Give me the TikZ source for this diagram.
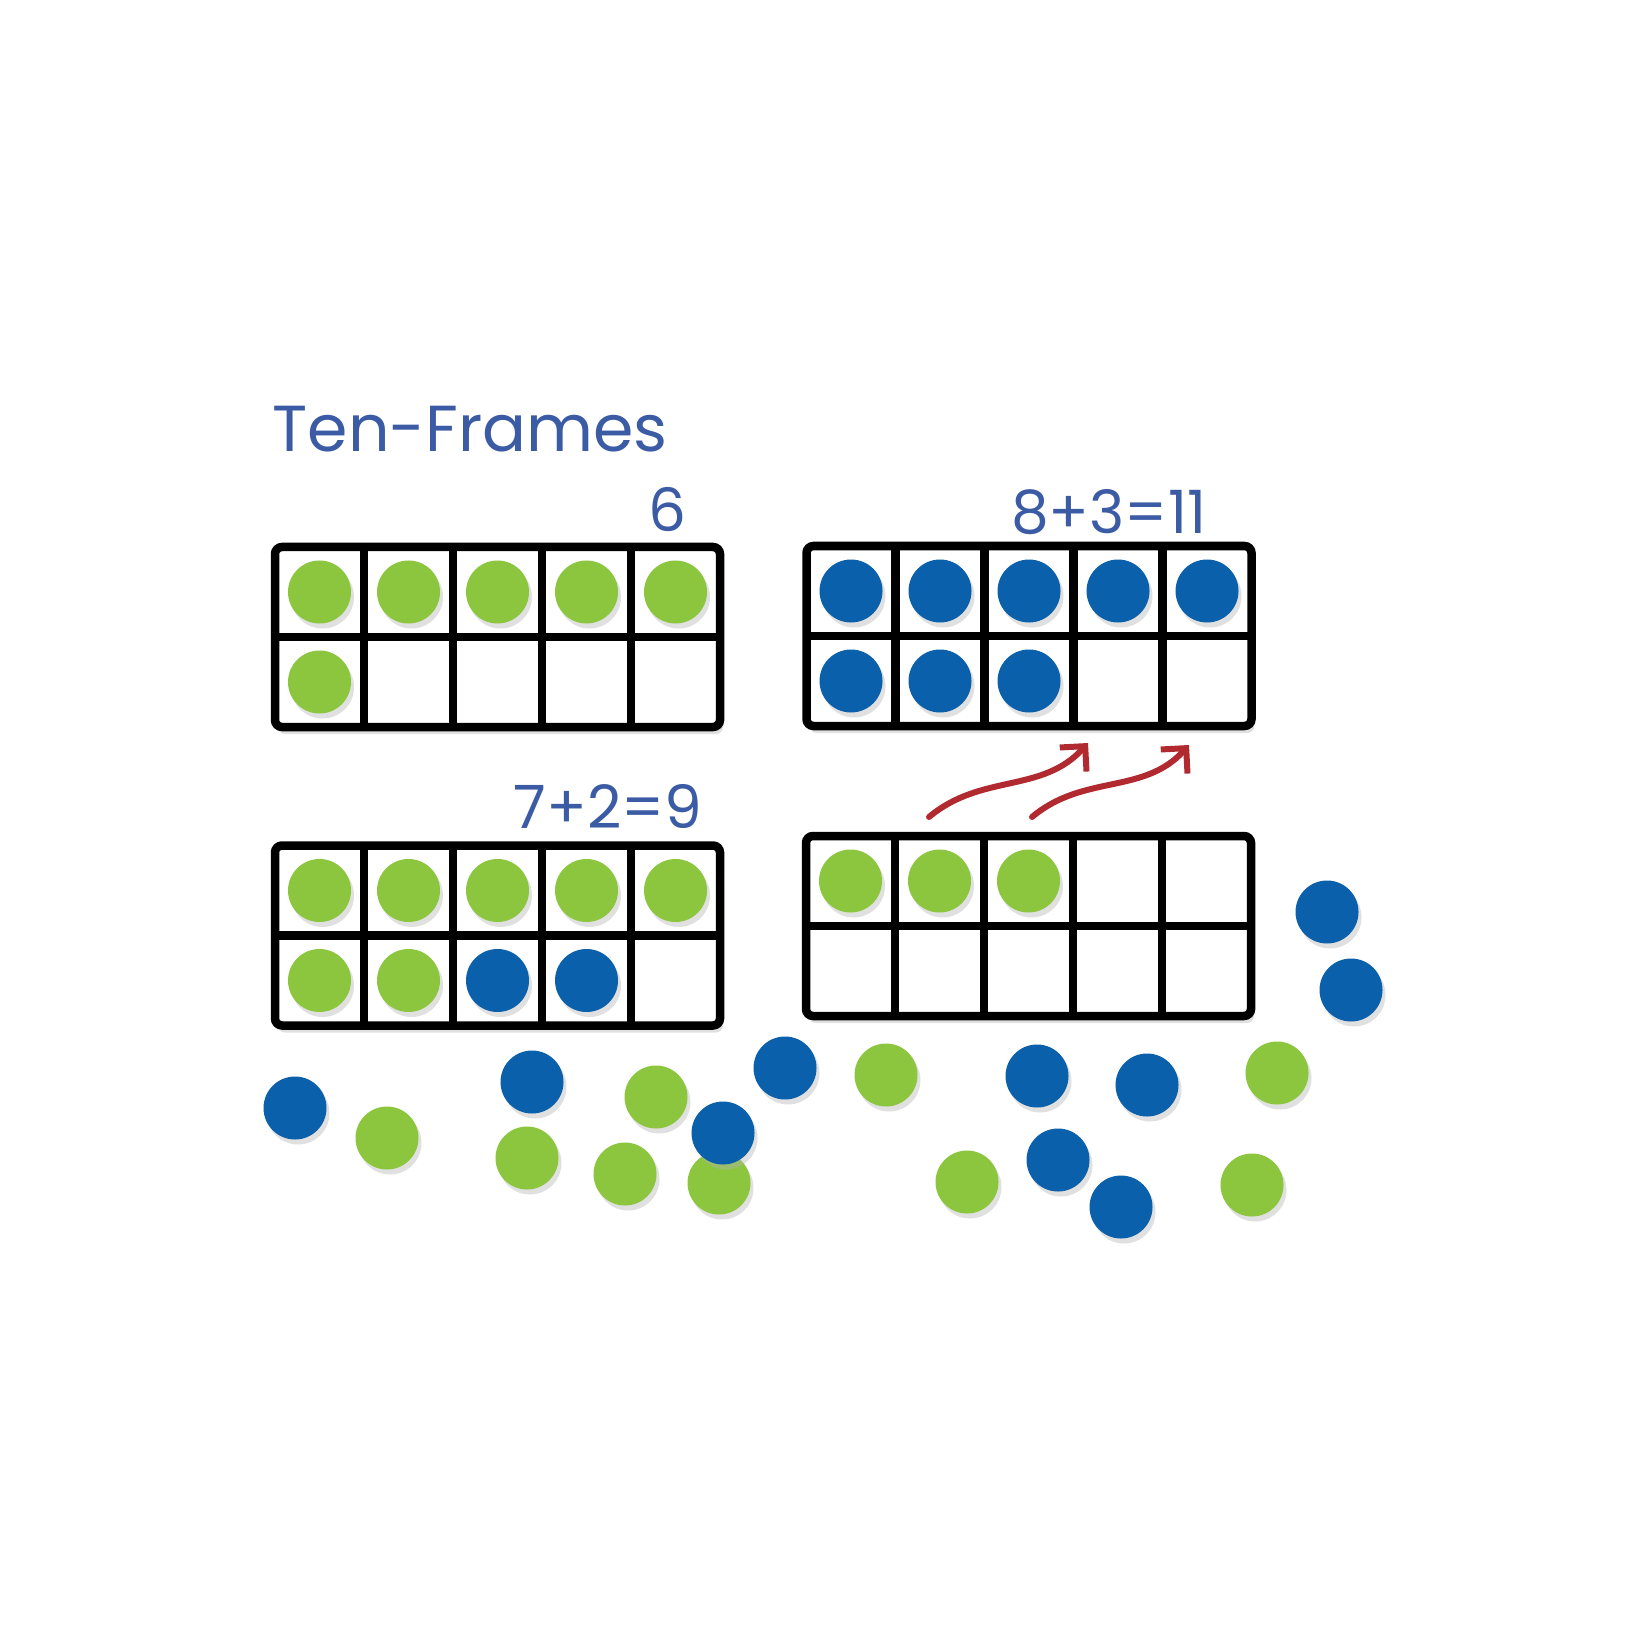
\documentclass[tikz,border=0pt]{standalone}
\usepackage{fontspec}
\setmainfont{Poppins}
\usetikzlibrary{positioning}
\usetikzlibrary{calc}
\usetikzlibrary{shadows}
\usetikzlibrary{arrows.meta}
\definecolor{Lime}{RGB}{140,198,63}
\definecolor{Navy}{RGB}{10,96,170}
\definecolor{Ink}{RGB}{59,91,165}
\definecolor{Brick}{RGB}{176,42,48}

\begin{document}
\begin{tikzpicture}[>=latex,
  tenframe/.style={draw, fill=white, line width=0.085cm, rounded corners=0.07cm,
    minimum width=4.45cm, minimum height=1.8cm, inner sep=0pt, outer sep=0pt,
    drop shadow={shadow xshift=0.03cm, shadow yshift=-0.07cm, fill=black!20, opacity=0.6}},
  chip/.style={circle, minimum size=0.63cm, inner sep=0pt,
    drop shadow={shadow xshift=0.03cm, shadow yshift=-0.05cm, fill=black!30, opacity=0.4}},
  gchip/.style={chip, fill=Lime},
  bchip/.style={chip, fill=Navy},
  sumtext/.style={text=Ink, font=\fontsize{17}{20}\selectfont, inner sep=0pt, anchor=base east},
  move/.style={Brick, line width=0.06cm, line cap=round,
    -{Straight Barb[length=0.18cm, width=0.36cm]}}]

\fill[white] (0,0) rectangle (16.52,-16.52);
\useasboundingbox (0,0) rectangle (16.52,-16.52);

\node[text=Ink, font=\fontsize{18.5}{22}\selectfont, anchor=base west, inner sep=0pt] (title) at (2.72,-4.52) {Ten-Frames};

% the four frames
\foreach \f / \x / \y in {fa/4.975/-6.37, fb/10.29/-6.36, fc/4.975/-9.355, fd/10.285/-9.26} {
  \node[tenframe] (\f) at (\x,\y) {};
  \foreach \i in {1,...,4}
    \draw[line width=0.085cm] ($(\f.north west)+(0.89*\i,0)$) -- ($(\f.south west)+(0.89*\i,0)$);
  \draw[line width=0.085cm] (\f.west) -- (\f.east);
}

\node[sumtext] (sa) at (6.87,-5.32) {6};
\node[sumtext] (sb) at (12.07,-5.33) {8+3=11};
\node[sumtext] (sc) at (7.03,-8.28) {7+2=9};

% counters in the frames
\foreach \c in {1,...,5} {
  \node[gchip] (a\c) at ($(fa.north west)+(0.89*\c-0.445,-0.45)$) {};
  \node[bchip] (b\c) at ($(fb.north west)+(0.89*\c-0.445,-0.45)$) {};
  \node[gchip] (c\c) at ($(fc.north west)+(0.89*\c-0.445,-0.45)$) {};
}
\node[gchip] (a6) at ($(fa.west)+(0.445,-0.45)$) {};
\foreach \c in {1,2,3} {
  \node[bchip] (b\c x) at ($(fb.west)+(0.89*\c-0.445,-0.45)$) {};
  \node[gchip] (d\c) at ($(fd.north west)+(0.89*\c-0.445,-0.45)$) {};
}
\foreach \c in {1,2}
  \node[gchip] (c\c x) at ($(fc.west)+(0.89*\c-0.445,-0.45)$) {};
\foreach \c in {3,4}
  \node[bchip] (c\c x) at ($(fc.west)+(0.89*\c-0.445,-0.45)$) {};

% loose counters
\foreach \n / \x / \y in {1/3.87/-11.38, 2/5.27/-11.58, 3/6.56/-10.97, 4/6.25/-11.74,
    5/7.19/-11.83, 6/8.86/-10.75, 7/12.77/-10.73, 8/9.67/-11.82, 9/12.52/-11.85}
  \node[gchip] (g\n) at (\x,\y) {};
\foreach \n / \x / \y in {1/2.95/-11.08, 2/5.32/-10.82, 3/7.23/-11.33, 4/7.85/-10.68,
    5/10.37/-10.76, 6/11.47/-10.85, 7/10.58/-11.60, 8/11.21/-12.07, 9/13.27/-9.12, 10/13.51/-9.90}
  \node[bchip] (u\n) at (\x,\y) {};

% moving two counters up
\coordinate (m1s) at (9.29,-8.17);
\coordinate (m1e) at (10.88,-7.43);
\coordinate (m2s) at (10.32,-8.17);
\coordinate (m2e) at (11.89,-7.45);
\draw[move] (m1s) to[out=40, in=228] (m1e);
\draw[move] (m2s) to[out=40, in=228] (m2e);

\end{tikzpicture}
\end{document}
